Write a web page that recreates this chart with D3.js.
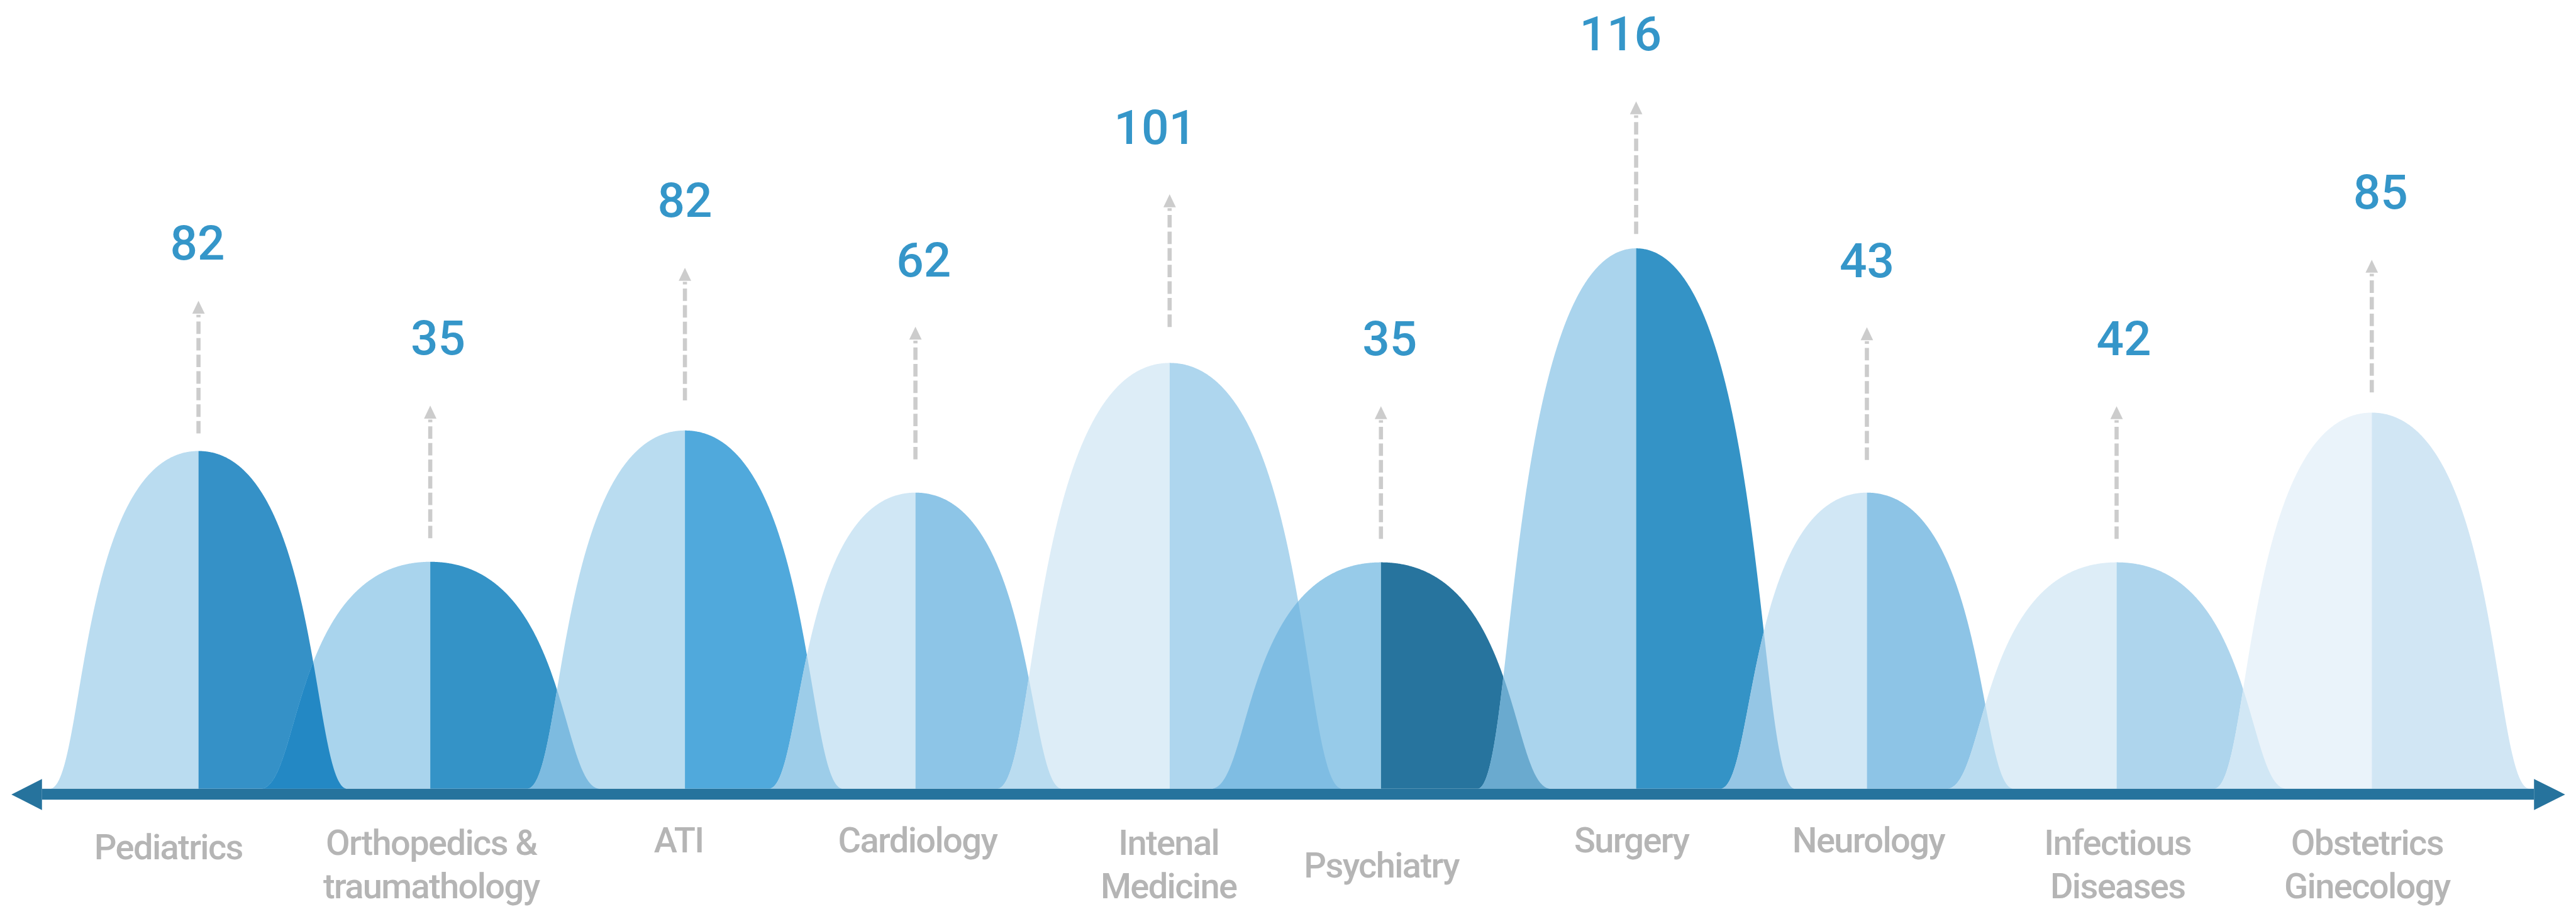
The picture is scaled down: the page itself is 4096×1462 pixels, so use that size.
<!DOCTYPE html>
<html>
<head>
<meta charset="utf-8">
<script src="https://cdn.jsdelivr.net/npm/d3@7"></script>
<style>
	html, body { margin: 0; padding: 0; background: #fff; overflow: hidden; }
	#canvas { width: 4096px; height: 1462px; }
</style>
</head>
<body>
<div id="canvas"></div>
<script>
// data
const categories = [
	'Pediatrics',
	'Orthopedics &\ntraumathology',
	'ATI',
	'Cardiology',
	'Intenal\nMedicine',
	'Psychiatry',
	'Surgery',
	'Neurology',
	'Infectious\nDiseases',
	'Obstetrics\nGinecology',
];
const values = [82, 35, 82, 62, 101, 35, 116, 43, 42, 85];
// position along the axis (0-100) and half width of each bell
const positions = [6.28, 15.58, 25.8, 35.05, 45.25, 53.73, 63.97, 73.23, 83.25, 93.49];
const spreads = [5.97, 6.82, 6.34, 5.89, 6.93, 6.82, 6.37, 5.89, 6.82, 6.34];
// bell height and pointer height, same level units (surgery bell = 100)
const peakLevels = [62.5, 42, 66.3, 54.8, 78.8, 41.9, 100, 54.8, 41.9, 69.6];
const pointerLevels = [90.3, 70.9, 96.4, 85.5, 110, 70.8, 127.2, 85.4, 70.8, 97.9];

// styles
const leftColors = ['#badcf0', '#a9d4ed', '#b9dcf0', '#d0e7f5', '#ddedf7', '#97cbe9', '#aad4ed', '#d1e7f5', '#ddedf7', '#eaf3fa'];
const rightColors = ['#3591c7', '#3493c7', '#50a9dc', '#8dc5e7', '#aed6ee', '#27749e', '#3493c6', '#8dc4e6', '#aed5ed', '#d1e6f4'];
const overlapColors = ['#2388c4', '#7dbbe0', '#9dcde9', '#badcf0', '#7fbde3', '#6aaacf', '#95c6e5', '#badcf0', '#d1e7f5'];
const labelDx = [-58, 2, -12, 4, -2, 1, -9, 3, 2, -9];
const labelDrop = [136, 128, 123, 123, 128, 171, 123, 123, 128, 128];
const valueDx = [-2, 15, 0, 16, -28, 17, -30, 0, 14, 17];
const valueGap = [80, 98, 98, 97, 97, 98, 99, 97, 99, 99];

const W = 4969;
const H = 1773;
const axisY = 1522;

const x = d3.scaleLinear().domain([0, 100]).range([81, 4888]);
const y = d3.scaleLinear().domain([0, 100]).range([axisY, axisY - 1043]);

// bell profile: cubic bezier from top (u=0,l=1) to foot (u=1,l=0)
const profile = (() => {
	const p1 = 0.82, p2 = 0.76, n = 600;
	const us = [], ls = [];
	for (let i = 0; i <= n; i++) {
		const t = i / n, mt = 1 - t;
		us.push(3 * mt * mt * t * p1 + 3 * mt * t * t * p2 + t * t * t);
		ls.push(mt * mt * mt + 3 * mt * mt * t);
	}
	return u => {
		u = Math.abs(u);
		if (u >= 1) return 0;
		const i = d3.bisectLeft(us, u);
		if (i === 0) return 1;
		const f = (u - us[i - 1]) / (us[i] - us[i - 1]);
		return ls[i - 1] + f * (ls[i] - ls[i - 1]);
	};
})();

const level = (i, xv) => peakLevels[i] * profile((xv - positions[i]) / spreads[i]);

const sample = (a, b, fn, n = 240) =>
	d3.range(n + 1).map(k => {
		const xv = a + ((b - a) * k) / n;
		return [xv, fn(xv)];
	});

const area = d3
	.area()
	.x(d => x(d[0]))
	.y0(y(0))
	.y1(d => y(d[1]));

const svg = d3
	.select('#canvas')
	.append('svg')
	.attr('width', 4096)
	.attr('height', 1462)
	.attr('viewBox', `0 0 ${W} ${H}`);

// bell halves
const bells = svg.append('g').attr('id', 'bells');
categories.forEach((c, i) => {
	const lo = positions[i] - spreads[i];
	const hi = positions[i] + spreads[i];
	bells
		.append('path')
		.attr('d', area(sample(lo, positions[i], xv => level(i, xv))))
		.attr('fill', leftColors[i]);
	bells
		.append('path')
		.attr('d', area(sample(positions[i], hi, xv => level(i, xv))))
		.attr('fill', rightColors[i]);
});

// where one bell's right half meets the next bell's left half
const overlaps = svg.append('g').attr('id', 'overlaps');
d3.range(categories.length - 1).forEach(i => {
	const a = positions[i + 1] - spreads[i + 1];
	const b = positions[i] + spreads[i];
	if (b <= a) return;
	overlaps
		.append('path')
		.attr('d', area(sample(a, b, xv => Math.min(level(i, xv), level(i + 1, xv)))))
		.attr('fill', overlapColors[i]);
});

// axis bar with arrow heads
const axisG = svg.append('g').attr('id', 'axis');
const x0 = x.range()[0];
const x1 = x.range()[1];
axisG
	.append('rect')
	.attr('x', x0)
	.attr('y', axisY)
	.attr('width', x1 - x0)
	.attr('height', 21)
	.attr('fill', '#26739d');
axisG
	.append('path')
	.attr('d', `M${x0},${axisY - 19}L${x0 - 59},${axisY + 11}L${x0},${axisY + 41}Z`)
	.attr('fill', '#26739d');
axisG
	.append('path')
	.attr('d', `M${x1},${axisY - 19}L${x1 + 60},${axisY + 11}L${x1},${axisY + 41}Z`)
	.attr('fill', '#26739d');

// dashed pointers
const pointers = svg.append('g').attr('id', 'pointers');
categories.forEach((c, i) => {
	const cx = x(positions[i]);
	const tip = y(pointerLevels[i]);
	pointers
		.append('line')
		.attr('x1', cx)
		.attr('x2', cx)
		.attr('y1', tip + 256)
		.attr('y2', tip + 27)
		.attr('stroke', '#cccccc')
		.attr('stroke-width', 8)
		.attr('stroke-dasharray', '24 8');
	pointers
		.append('path')
		.attr('d', `M${cx},${tip}L${cx - 12},${tip + 25}L${cx + 12},${tip + 25}Z`)
		.attr('fill', '#cccccc');
});

// values
svg.append('g')
	.attr('id', 'values')
	.selectAll('text')
	.data(values)
	.join('text')
	.attr('x', (d, i) => x(positions[i]) + valueDx[i])
	.attr('y', (d, i) => y(pointerLevels[i]) - valueGap[i])
	.attr('text-anchor', 'middle')
	.attr('font-family', 'Roboto, sans-serif')
	.attr('font-weight', 500)
	.attr('font-size', 93)
	.attr('fill', '#3596c9')
	.text(d => d);

// category labels
const labels = svg
	.append('g')
	.attr('id', 'labels')
	.selectAll('text')
	.data(categories)
	.join('text')
	.attr('text-anchor', 'middle')
	.attr('font-family', 'Roboto, sans-serif')
	.attr('font-weight', 500)
	.attr('font-size', 68)
	.attr('letter-spacing', -2)
	.attr('fill', '#b5b5b5');

labels.each(function (d, i) {
	const cx = x(positions[i]) + labelDx[i];
	d3.select(this)
		.selectAll('tspan')
		.data(d.split('\n'))
		.join('tspan')
		.attr('x', cx)
		.attr('y', (line, k) => axisY + labelDrop[i] + k * 83)
		.text(line => line);
});
</script>
</body>
</html>
